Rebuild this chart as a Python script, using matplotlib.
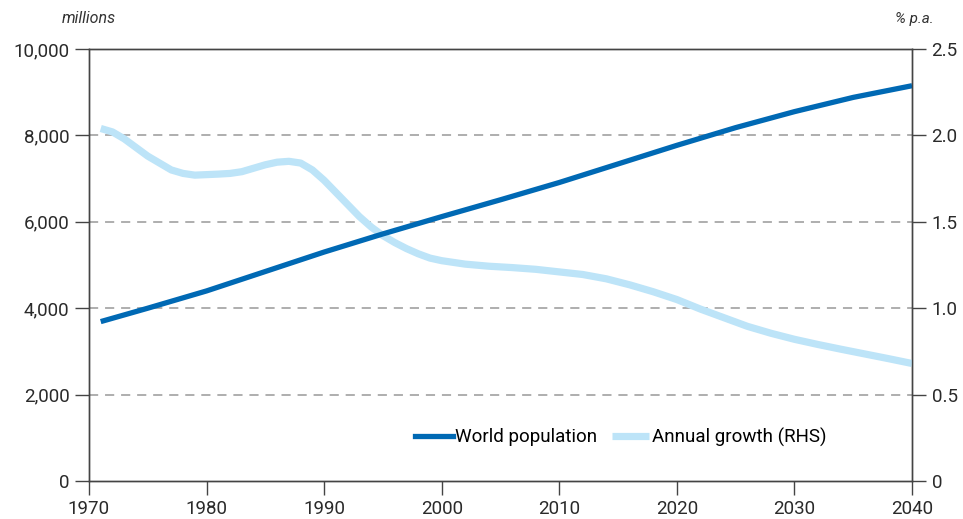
import matplotlib.pyplot as plt
from matplotlib.ticker import FuncFormatter

plt.rcParams["font.family"] = ["Roboto", "DejaVu Sans"]

pop_years = [1971, 1975, 1980, 1985, 1990, 1995, 2000, 2005, 2010, 2015,
             2020, 2025, 2030, 2035, 2040]
population = [3690, 4000, 4400, 4850, 5300, 5720, 6120, 6510, 6910, 7340,
              7770, 8180, 8550, 8880, 9150]

growth_years = [1971, 1972, 1973, 1974, 1975, 1976, 1977, 1978, 1979, 1980,
                1981, 1982, 1983, 1984, 1985, 1986, 1987, 1988, 1989, 1990,
                1991, 1992, 1993, 1994, 1995, 1996, 1997, 1998, 1999, 2000,
                2002, 2004, 2006, 2008, 2010, 2012, 2014, 2016, 2018, 2020,
                2022, 2024, 2026, 2028, 2030, 2032, 2034, 2036, 2038, 2040]
growth = [2.04, 2.02, 1.98, 1.93, 1.88, 1.84, 1.80, 1.78, 1.77, 1.773,
          1.776, 1.78, 1.79, 1.81, 1.83, 1.845, 1.85, 1.84, 1.80, 1.74,
          1.67, 1.60, 1.53, 1.47, 1.42, 1.38, 1.345, 1.315, 1.29, 1.275,
          1.255, 1.243, 1.235, 1.225, 1.21, 1.195, 1.17, 1.135, 1.095, 1.05,
          0.995, 0.945, 0.895, 0.855, 0.82, 0.79, 0.762, 0.735, 0.708, 0.68]

x_ticks = [1970, 1980, 1990, 2000, 2010, 2020, 2030, 2040]
left_ticks = [0, 2000, 4000, 6000, 8000, 10000]
right_ticks = [0, 0.5, 1.0, 1.5, 2.0, 2.5]

dark_blue = "#0069b4"
light_blue = "#bde4f8"
axis_grey = "#444444"

fig = plt.figure(figsize=(9.63, 5.19), dpi=100)
ax = fig.add_axes([0.0924, 0.0732, 0.8547, 0.8324])
ax2 = ax.twinx()

ax.set_xlim(1970, 2040)
ax.set_ylim(0, 10000)
ax2.set_ylim(0, 2.5)

for y in left_ticks[1:-1]:
    ax.axhline(y, color="#999999", lw=1.1, ls=(0, (6, 4.5)), zorder=0)

l2, = ax2.plot(growth_years, growth, color=light_blue, lw=5.2,
               solid_capstyle="butt", solid_joinstyle="round",
               label="Annual growth (RHS)")
l1, = ax2.plot([], [], color=dark_blue, lw=3.8, label="World population")
# population drawn on the RHS axis (10,000 = 2.5) so it sits above the growth line
ax2.plot(pop_years, [p / 4000 for p in population], color=dark_blue, lw=3.8,
         solid_capstyle="butt", solid_joinstyle="round")

ax.set_xticks(x_ticks)
ax.set_yticks(left_ticks)
ax2.set_yticks(right_ticks)
ax.yaxis.set_major_formatter(FuncFormatter(lambda v, _: f"{int(v):,}"))
ax2.yaxis.set_major_formatter(FuncFormatter(lambda v, _: "0" if v == 0 else f"{v:.1f}"))

for a in (ax, ax2):
    for s in a.spines.values():
        s.set_color(axis_grey)
        s.set_linewidth(1.0)
ax.tick_params(axis="both", direction="out", length=10, width=1.0,
               color=axis_grey, labelsize=13.5, labelcolor="#2a2a2a", pad=4)
ax2.tick_params(axis="y", direction="out", length=10, width=1.0,
                color=axis_grey, labelsize=13.5, labelcolor="#2a2a2a", pad=4)

fig.text(0.064, 0.955, "millions", fontsize=11.5, style="italic", color="#333333")
fig.text(0.969, 0.955, "% p.a.", fontsize=11, style="italic", color="#333333",
         ha="right")

ax.legend([l1, l2], ["World population", "Annual growth (RHS)"],
          loc="center", bbox_to_anchor=(0.646, 0.102), frameon=False,
          ncol=2, fontsize=13.5, handlelength=2.0, handletextpad=0.15,
          columnspacing=0.75)

fig.savefig("out.png", dpi=100)
